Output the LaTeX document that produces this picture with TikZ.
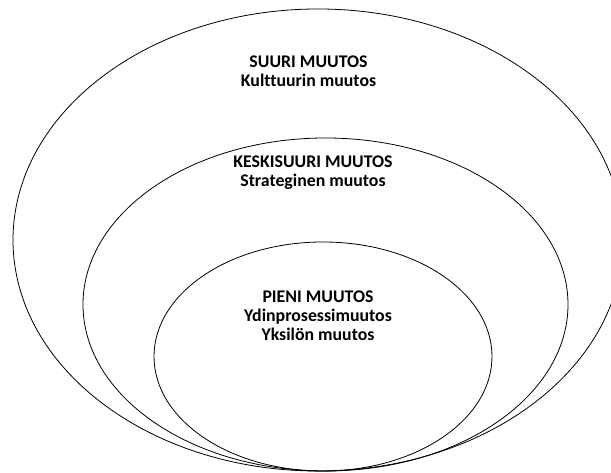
\documentclass[tikz,border=0pt]{standalone}
\usepackage{fontspec}
\setmainfont{Carlito}[Ligatures={NoCommon}]
\begin{document}
\begin{tikzpicture}[x=1pt,y=1pt,
  ring/.style={draw=black, line width=0.8pt},
  label/.style={font=\bfseries\fontsize{17.8}{19}\selectfont, align=center, inner sep=0pt, anchor=north}]
\clip (0,0) rectangle (611,473);
\fill[white] (0,0) rectangle (611,473);
% outer ellipse
\draw[ring] (318,233) ellipse [x radius=305, y radius=231];
% middle ellipse
\draw[ring] (325.5,168.5) ellipse [x radius=242.5, y radius=166.5];
% inner ellipse
\draw[ring] (323,116.5) ellipse [x radius=169, y radius=114.5];
\node[label] (big) at (308.5,417) {SUURI MUUTOS\\Kulttuurin muutos};
\node[label] (mid) at (313,317) {KESKISUURI MUUTOS\\Strateginen muutos};
\node[label] (small) at (318,182.5) {PIENI MUUTOS\\Ydinprosessimuutos\\Yksilön muutos};
\end{tikzpicture}
\end{document}
